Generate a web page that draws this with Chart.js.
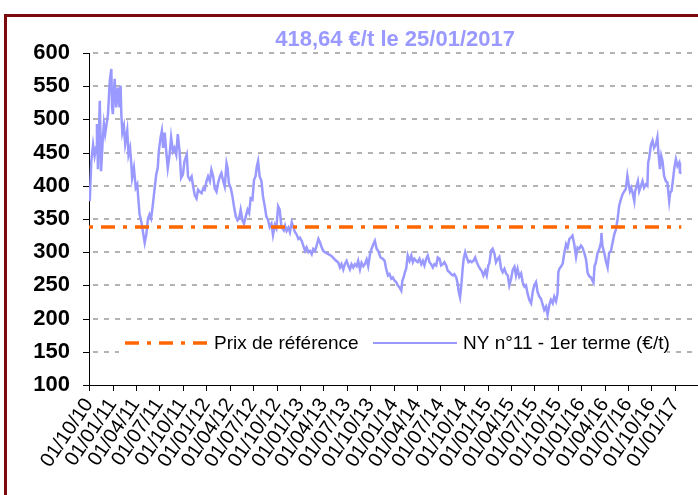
<!DOCTYPE html>
<html><head><meta charset="utf-8">
<script src="https://cdn.jsdelivr.net/npm/chart.js@4.4.1/dist/chart.umd.min.js"></script>
<style>
html,body{margin:0;padding:0;background:#fff;overflow:hidden;width:698px;height:495px;}
#frame{position:absolute;left:4px;top:14px;width:760px;height:560px;border:3px solid #7d0a0a;box-sizing:border-box;}
#wrap{position:absolute;left:0;top:0;width:698px;height:495px;}
</style></head><body>
<div id="frame"></div>
<div id="wrap"><canvas id="c" width="698" height="495"></canvas></div>
<script>
// ---- data ----
const titleText = '418,64 €/t le 25/01/2017';
const seriesLabels = ['Prix de référence', 'NY n°11 - 1er terme (€/t)'];
const referencePrice = 338;
const yTicks = [100,150,200,250,300,350,400,450,500,550,600];
const xTickLabels = ['01/10/10','01/01/11','01/04/11','01/07/11','01/10/11','01/01/12','01/04/12','01/07/12','01/10/12','01/01/13','01/04/13','01/07/13','01/10/13','01/01/14','01/04/14','01/07/14','01/10/14','01/01/15','01/04/15','01/07/15','01/10/15','01/01/16','01/04/16','01/07/16','01/10/16','01/01/17'];
const axisEndDay = 2370; // days after 01/10/2010 where the axis stops
// days after 01/10/2010
const dayOffsets = [0,3,9,16,22,28,31,35,42,47,54,58,63,74,81,87,90,93,100,106,113,119,123,126,130,136,141,149,154,160,165,168,175,182,188,193,197,204,210,217,223,230,236,242,249,256,262,268,272,279,284,289,295,301,307,314,320,327,333,340,346,353,359,366,372,381,
386,393,400,406,412,419,425,432,439,445,451,458,464,471,477,484,490,497,503,510,516,523,529,536,540,545,553,559,565,572,579,585,591,598,604,611,618,624,630,637,643,649,654,659,665,672,678,685,691,698,704,711,717,724,730,737,743,750,759,
764,770,777,783,790,797,803,809,816,822,829,835,842,848,855,861,868,874,881,887,894,900,907,913,919,933,946,958,972,978,984,991,997,1004,1011,1017,1023,1030,1036,1043,1049,1056,1062,1069,1075,1082,1088,1095,1101,1108,1114,1121,1127,1136,
1145,1152,1158,1165,1171,1178,1184,1191,1197,1203,1210,1217,1221,1226,1231,1236,1242,1249,1256,1262,1268,1275,1281,1288,1295,1301,1307,1314,1320,1327,1333,1340,1346,1353,1359,1366,1372,1379,1385,1392,1398,1405,1411,1418,1424,1431,1437,1441,1446,1451,1456,1460,1466,1472,1479,1485,1491,1498,1505,1511,1517,1524,1530,1537,1544,1550,1556,
1560,1567,1573,1580,1586,1593,1599,1606,1612,1619,1625,1632,1638,1645,1651,1658,1664,1670,1677,1684,1690,1697,1703,1709,1716,1723,1729,1735,1742,1748,1755,1761,1768,1774,1781,1787,1794,1800,1807,1813,1820,1826,1829,1833,1839,1846,1852,1859,1865,1872,1878,1884,1891,1898,1904,1910,1917,
1923,1930,1937,1943,1949,1956,1962,1966,1970,1975,1982,1988,1995,1997,2001,2008,2014,2021,2027,2034,2040,2047,2053,2060,2066,2073,2079,2086,2092,2098,2102,2108,2113,2118,2125,2128,2134,2139,2144,2151,2157,2163,2170,2176,2179,2183,2190,2196,2202,2209,2215,2219,2225,2230,2235,2241,2248,2254,2261,2265,2270,2276,2281,2287,2293,2300,2303,2308];
const prices = [395,377,437,462,445,458,493,425,528,422,473,493,478,508,558,576,518,508,561,518,548,518,551,508,480,490,463,483,447,457,432,412,427,397,402,377,357,346,331,314,326,351,357,351,372,397,417,427,452,473,483,457,480,452,427,447,473,452,457,447,478,452,412,417,437,447,
414,409,414,399,386,381,394,391,389,396,394,407,414,407,424,414,396,391,404,414,419,407,399,434,427,404,396,384,369,354,348,351,364,348,343,354,364,359,381,379,409,414,429,437,414,407,384,369,354,348,338,343,326,341,336,369,364,338,333,
340,332,337,330,345,337,330,327,320,322,317,310,302,307,300,302,297,305,302,310,320,315,307,302,300,297,294,289,284,277,282,274,282,287,279,274,282,277,282,279,287,274,284,279,282,289,279,297,305,312,317,305,302,292,
290,287,275,265,267,260,262,257,255,250,247,242,257,262,270,275,295,287,295,285,290,287,285,290,282,287,280,290,295,285,282,277,282,280,292,290,280,282,285,280,272,270,267,265,267,262,252,240,232,250,275,290,300,292,285,287,285,287,292,285,280,275,272,265,272,265,280,
283,302,305,298,285,290,293,275,270,275,268,265,250,260,273,278,265,275,263,268,255,248,250,238,228,223,240,250,255,240,233,230,221,213,218,206,221,228,223,233,226,238,270,275,278,283,298,312,307,320,322,325,312,293,307,305,310,
307,299,289,269,264,262,257,254,279,284,299,304,314,329,309,299,287,277,299,302,314,327,334,350,370,380,387,392,395,415,405,392,397,390,377,392,400,407,392,400,407,397,402,400,435,442,462,468,457,462,473,450,425,445,437,415,407,405,377,390,392,410,427,440,430,435,420,418.64];

// ---- helpers ----
const START = Date.UTC(2010, 9, 1);
function labelToDay(s){ const p = s.split('/').map(Number); return Math.round((Date.UTC(2000+p[2], p[1]-1, p[0]) - START)/86400000); }
const xTickDays = xTickLabels.map(labelToDay);

const FONT = '"Liberation Sans", Arial, sans-serif';
const refColor = '#ff6600';
const lineColor = '#9999ff';

// dashed grid + tick marks, placed through the chart's own scales
const gridPlugin = {
  id: 'gridMarks',
  beforeDatasetsDraw(chart){
    const {ctx, chartArea: a, scales: {x, y}} = chart;
    ctx.save();
    ctx.strokeStyle = '#b3b3b3';
    ctx.lineWidth = 2;
    ctx.setLineDash([5, 6]);
    yTicks.forEach(v => {
      if (v === y.min) return;
      const py = Math.round(y.getPixelForValue(v));
      ctx.beginPath(); ctx.moveTo(a.left + 4, py); ctx.lineTo(a.right, py); ctx.stroke();
    });
    ctx.setLineDash([]);
    ctx.strokeStyle = '#000';
    ctx.lineWidth = 1;
    yTicks.forEach(v => {
      const py = Math.round(y.getPixelForValue(v)) + 0.5;
      ctx.beginPath(); ctx.moveTo(a.left - 6, py); ctx.lineTo(a.left, py); ctx.stroke();
    });
    xTickDays.forEach(d => {
      const px = Math.round(x.getPixelForValue(d)) + 0.5;
      ctx.beginPath(); ctx.moveTo(px, a.bottom); ctx.lineTo(px, a.bottom + 6); ctx.stroke();
    });
    ctx.restore();
  }
};

const overlayPlugin = {
  id: 'overlay',
  afterDraw(chart){
    const {ctx, chartArea: a} = chart;
    ctx.save();
    // title
    ctx.font = 'bold 22px ' + FONT;
    ctx.fillStyle = lineColor;
    ctx.textAlign = 'center';
    ctx.textBaseline = 'middle';
    ctx.fillText(titleText, (a.left + a.right)/2 + 2, 40);
    // legend
    const cy = a.bottom - 42;
    ctx.fillStyle = '#fff';
    ctx.fillRect(a.left + 30, cy - 15, 548, 30);
    ctx.lineWidth = 3.5;
    ctx.strokeStyle = refColor;
    ctx.setLineDash([14, 8, 4, 8]);
    ctx.beginPath(); ctx.moveTo(a.left + 36, cy); ctx.lineTo(a.left + 120, cy); ctx.stroke();
    ctx.setLineDash([]);
    ctx.lineWidth = 2;
    ctx.strokeStyle = lineColor;
    ctx.beginPath(); ctx.moveTo(a.left + 284, cy); ctx.lineTo(a.left + 368, cy); ctx.stroke();
    ctx.font = '19px ' + FONT;
    ctx.fillStyle = '#000';
    ctx.textAlign = 'left';
    ctx.fillText(seriesLabels[0], a.left + 125, cy + 1);
    ctx.fillText(seriesLabels[1], a.left + 374, cy + 1);
    ctx.restore();
  }
};

new Chart(document.getElementById('c'), {
  type: 'line',
  data: {
    datasets: [
      {
        label: seriesLabels[0],
        data: [{x: dayOffsets[0], y: referencePrice}, {x: dayOffsets[dayOffsets.length-1], y: referencePrice}],
        borderColor: refColor, borderWidth: 3.5, borderDash: [14, 8, 4, 8], borderDashOffset: 22,
        pointRadius: 0, fill: false, order: 0
      },
      {
        label: seriesLabels[1],
        data: dayOffsets.map((d, i) => ({x: d, y: prices[i]})),
        borderColor: lineColor, borderWidth: 2.5, pointRadius: 0, tension: 0, fill: false, order: 1
      }
    ]
  },
  options: {
    responsive: false, animation: false, events: [],
    layout: { padding: { top: 53, right: 0, bottom: 0, left: 0 } },
    plugins: { legend: { display: false }, title: { display: false }, tooltip: { enabled: false } },
    scales: {
      x: {
        type: 'linear', min: 0, max: axisEndDay,
        afterFit(s){ s.height = 110; },
        afterBuildTicks(s){ s.ticks = xTickDays.map(v => ({value: v})); },
        grid: { display: false, drawTicks: true, tickLength: 6 },
        border: { display: true, color: '#000', width: 1 },
        ticks: {
          autoSkip: false, maxRotation: 56, minRotation: 56, padding: 3,
          color: '#000', font: { family: FONT, size: 20 },
          callback(v, i){ return xTickLabels[i]; }
        }
      },
      y: {
        min: 100, max: 600,
        afterFit(s){ s.width = 89; },
        afterBuildTicks(s){ s.ticks = yTicks.map(v => ({value: v})); },
        grid: { display: false, drawTicks: true, tickLength: 6 },
        border: { display: true, color: '#000', width: 1 },
        ticks: { padding: 13, color: '#000', font: { family: FONT, size: 22, weight: 'bold' } }
      }
    }
  },
  plugins: [gridPlugin, overlayPlugin]
});
</script>
</body></html>
